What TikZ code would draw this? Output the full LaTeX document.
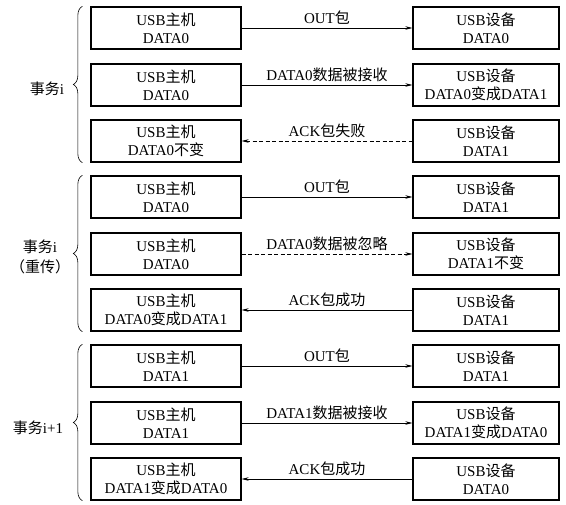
\documentclass[tikz,border=0pt]{standalone}
\usepackage{fontspec}
\setmainfont{Liberation Serif}
\newfontfamily\cjk{Noto Sans CJK SC}
\usetikzlibrary{arrows.meta,decorations.pathreplacing}

\newcommand{\zh}[1]{{\cjk #1}}

\tikzset{
 unit/.style={draw,line width=1.3pt,minimum height=42pt,inner sep=0pt,align=center},
 hostbox/.style={unit,minimum width=150pt},
 devbox/.style={unit,minimum width=146pt},
 link/.style={line width=0.6pt,>={Stealth[length=7pt,width=3.5pt]}},
 lost/.style={dash pattern=on 4pt off 2.5pt},
 group/.style={decorate,decoration={brace,amplitude=9pt},line width=0.6pt}
}

\begin{document}
\begin{tikzpicture}[x=1pt,y=-1pt,font=\fontsize{15}{18}\selectfont]
\useasboundingbox (0,0) rectangle (566,505);

\newcommand{\xfer}[6] % {name}{y}{host}{device}{label}{arrow}
{
 \node[hostbox] (h#1) at (166,#2) {#3};
 \node[devbox] (d#1) at (486,#2) {#4};
 \draw[link,#6] (h#1) -- node[above,inner sep=3pt]{#5} (d#1);
}

% transaction i
\xfer{a1}{28}{USB\zh{主机}\\DATA0}{USB\zh{设备}\\DATA0}{OUT\zh{包}}{->}
\xfer{a2}{85}{USB\zh{主机}\\DATA0}{USB\zh{设备}\\DATA0\zh{变成}DATA1}{DATA0\zh{数据被接收}}{->}
\xfer{a3}{141}{USB\zh{主机}\\DATA0\zh{不变}}{USB\zh{设备}\\DATA1}{ACK\zh{包失败}}{<-,lost}

% transaction i, resent
\xfer{b1}{197}{USB\zh{主机}\\DATA0}{USB\zh{设备}\\DATA1}{OUT\zh{包}}{->}
\xfer{b2}{254}{USB\zh{主机}\\DATA0}{USB\zh{设备}\\DATA1\zh{不变}}{DATA0\zh{数据被忽略}}{->,lost}
\xfer{b3}{310}{USB\zh{主机}\\DATA0\zh{变成}DATA1}{USB\zh{设备}\\DATA1}{ACK\zh{包成功}}{<-}

% transaction i+1
\xfer{c1}{366}{USB\zh{主机}\\DATA1}{USB\zh{设备}\\DATA1}{OUT\zh{包}}{->}
\xfer{c2}{423}{USB\zh{主机}\\DATA1}{USB\zh{设备}\\DATA1\zh{变成}DATA0}{DATA1\zh{数据被接收}}{->}
\xfer{c3}{479}{USB\zh{主机}\\DATA1\zh{变成}DATA0}{USB\zh{设备}\\DATA0}{ACK\zh{包成功}}{<-}

\draw[group] ([xshift=-8pt]ha3.south west) -- ([xshift=-8pt]ha1.north west);
\draw[group] ([xshift=-8pt]hb3.south west) -- ([xshift=-8pt]hb1.north west);
\draw[group] ([xshift=-8pt]hc3.south west) -- ([xshift=-8pt]hc1.north west);

\node (ta) at (47,89) {\zh{事务}i};
\node[align=center,font=\fontsize{15}{20}\selectfont] (tb) at (40,257) {\zh{事务}i\\\zh{（重传）}};
\node (tc) at (38,428) {\zh{事务}i+1};

\end{tikzpicture}
\end{document}
